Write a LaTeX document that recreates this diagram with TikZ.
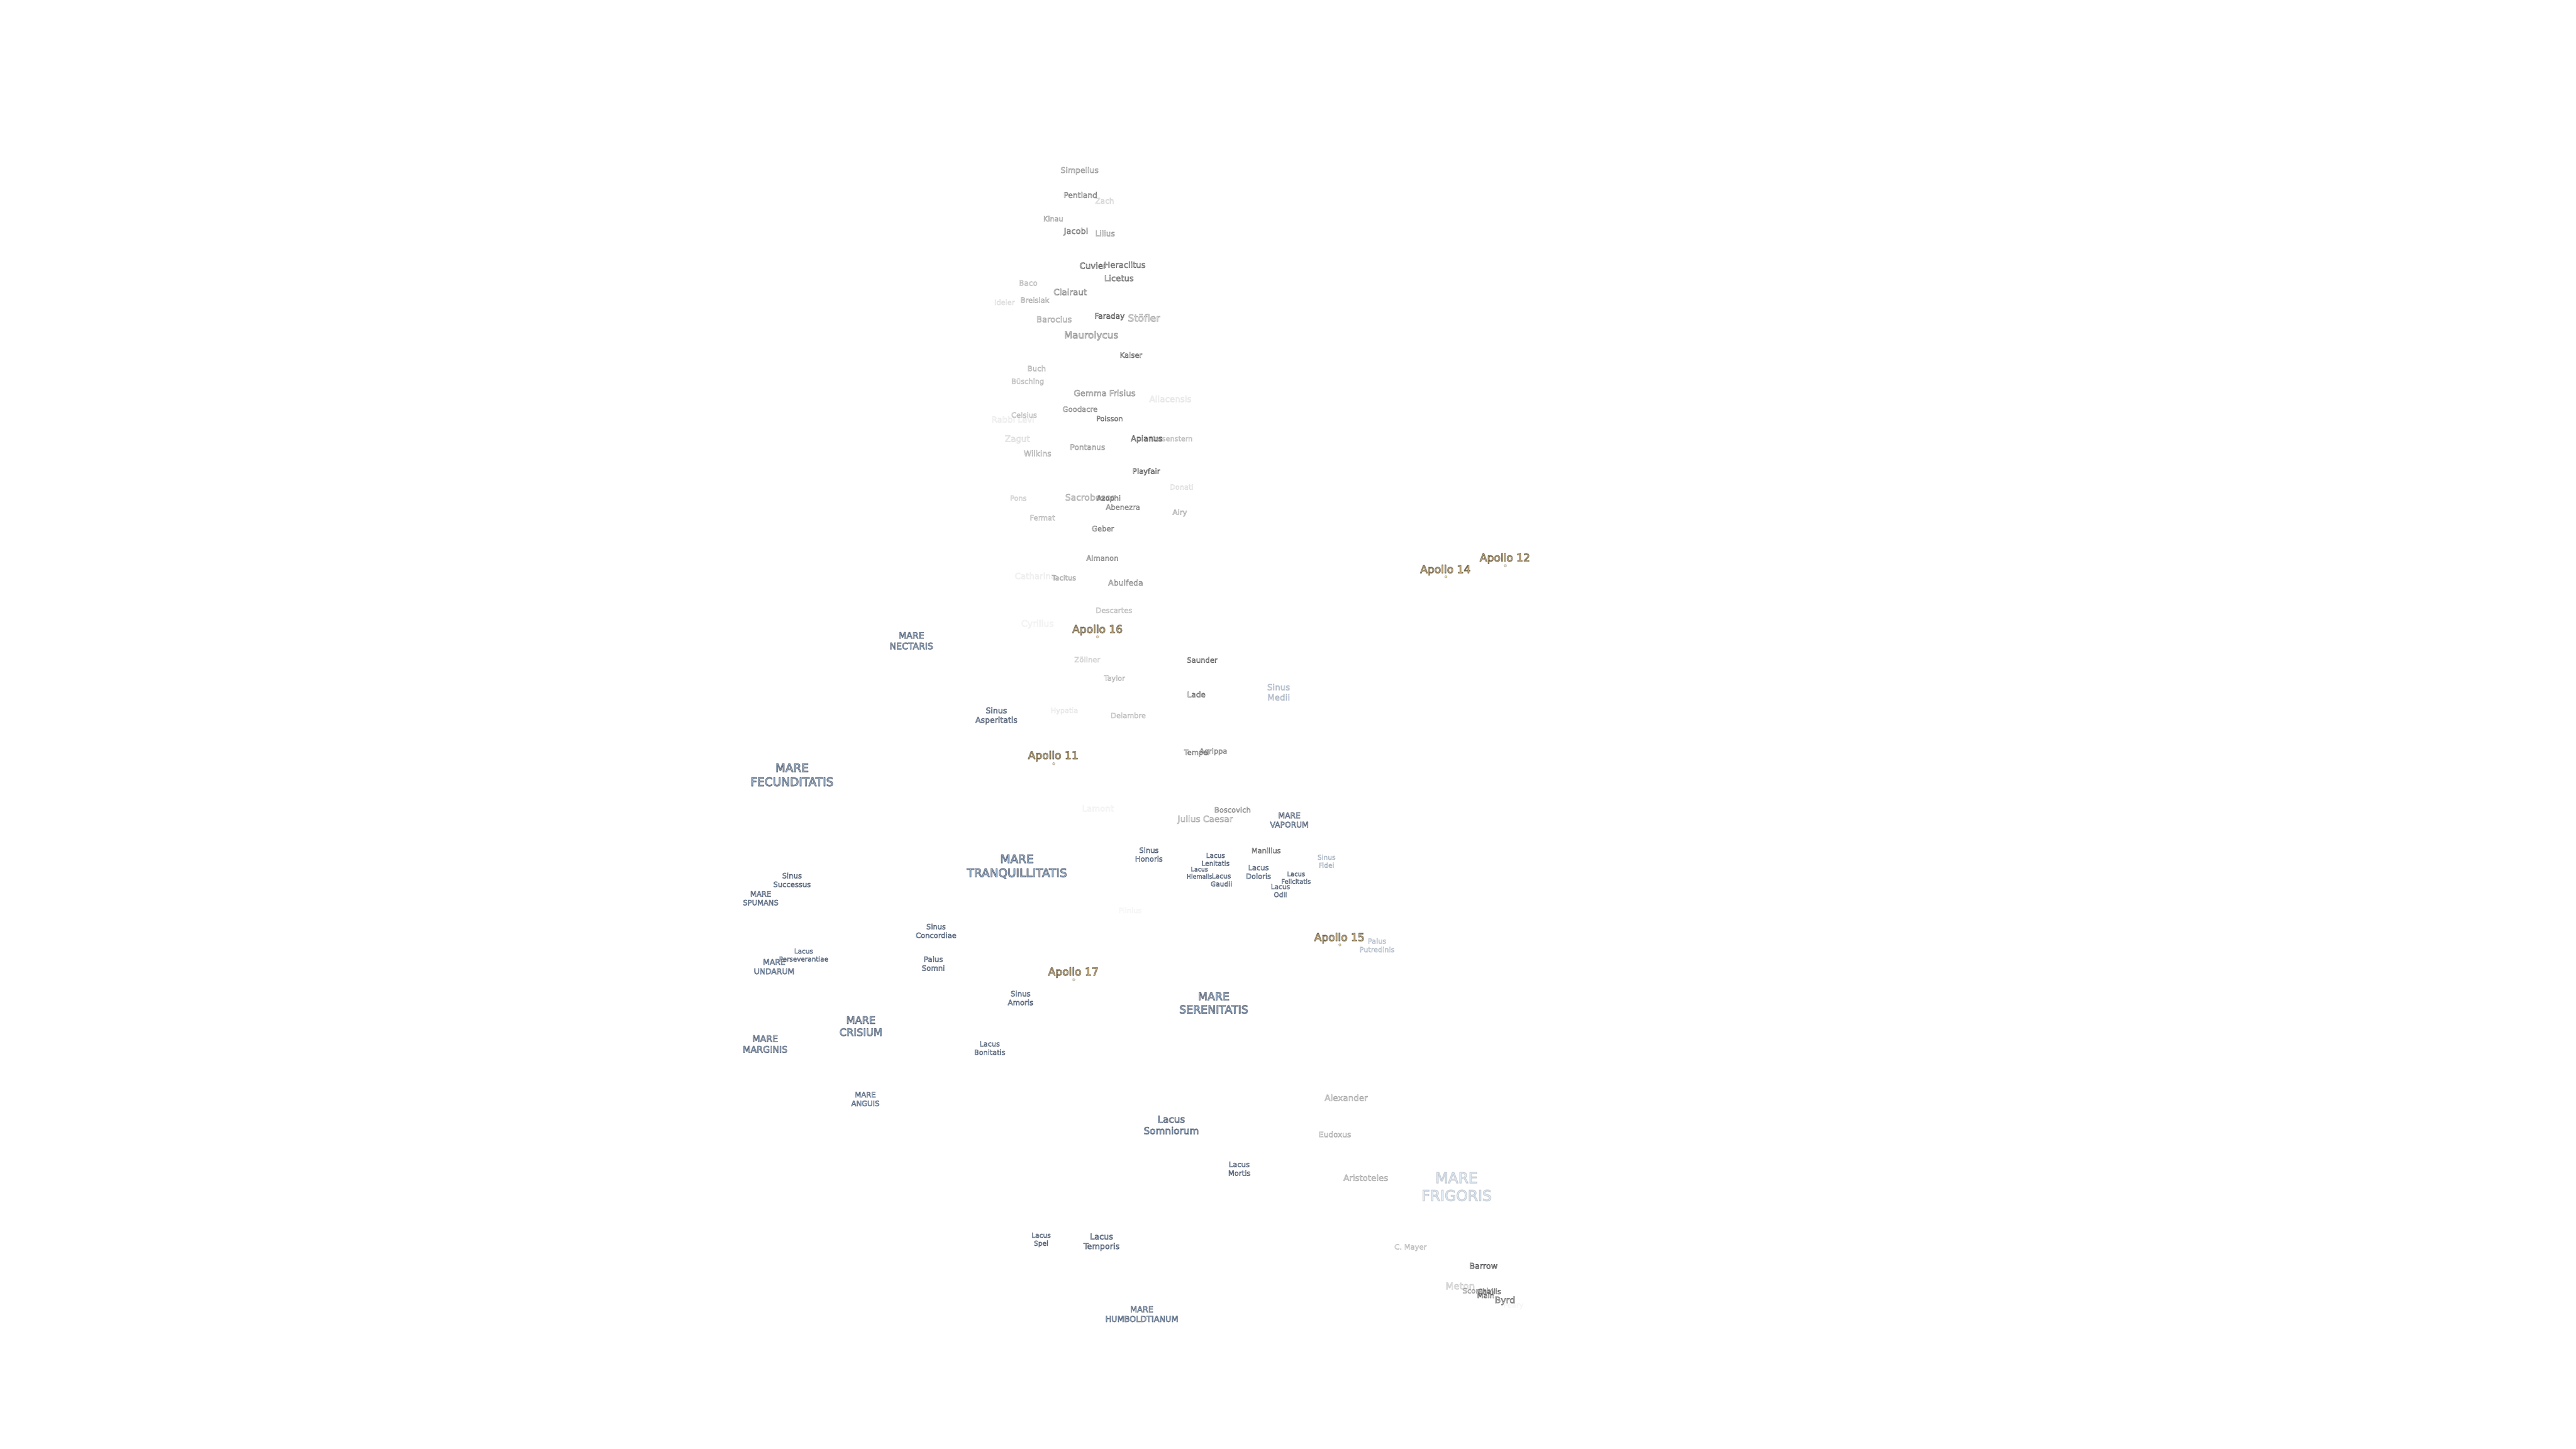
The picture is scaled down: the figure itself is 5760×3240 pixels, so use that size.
\documentclass[tikz,border=0pt]{standalone}
\usepackage{fontspec}
\setmainfont{DejaVu Sans}
\newfontfamily\rimfont[FakeBold=5]{DejaVu Sans}
\newcommand\fs[1]{%
  \pgfmathsetmacro\fsa{#1*0.28453}\pgfmathsetmacro\fsb{#1*0.28453*1.2}%
  \rimfont\fontsize{\fsa pt}{\fsb pt}\selectfont}
\definecolor{apollofill}{RGB}{252,222,165}
\tikzset{
  lbl/.style={inner sep=0pt,align=center,execute at end node={\special{pdf:ec}}},
  sz/.style={font=\fs{#1}},
  crater/.style={lbl,execute at begin node={\special{pdf:bc [0.98 0.98 0.98] [0.36 0.36 0.37]}}},
  mare/.style={lbl,execute at begin node={\special{pdf:bc [0.75 0.87 0.98] [0.36 0.4 0.47]}}},
  apollo/.style={lbl,sz=24,execute at begin node={\special{pdf:bc [0.99 0.87 0.65] [0.42 0.38 0.3]}}},
  op/.style={opacity=#1},
  site/.style={circle,inner sep=0pt,minimum size=1.5pt,fill=apollofill,draw=black!60,line width=.1pt}
}
\begin{document}
\begin{tikzpicture}[x=0.01cm,y=-0.01cm]
\useasboundingbox[fill=white] (0,0) rectangle (5760,3240);
% craters
\node[crater,sz=17.5,op=.6] (simpelius) at (2414,382) {Simpelius};
\node[crater,sz=17.2,op=.8] (pentland) at (2416,436) {Pentland};
\node[crater,sz=17,op=.25] (zach) at (2470,449) {Zach};
\node[crater,sz=16,op=.6] (kinau) at (2355,489) {Kinau};
\node[crater,sz=18,op=.85] (jacobi) at (2406,518) {Jacobi};
\node[crater,sz=17.3,op=.6] (lilius) at (2471,522) {Lilius};
\node[crater,sz=18.7,op=.95] (cuvier) at (2444,594) {Cuvier};
\node[crater,sz=18.4,op=.9] (heraclitus) at (2515,592) {Heraclitus};
\node[crater,sz=18.5,op=.85] (licetus) at (2502,622) {Licetus};
\node[crater,sz=17,op=.4] (baco) at (2299,633) {Baco};
\node[crater,sz=19,op=.7] (clairaut) at (2393,653) {Clairaut};
\node[crater,sz=16.3,op=.5] (breislak) at (2314,671) {Breislak};
\node[crater,sz=16,op=.2] (ideler) at (2246,676) {Ideler};
\node[crater,sz=18.5,op=.5] (barocius) at (2357,714) {Barocius};
\node[crater,sz=17,op=1] (faraday) at (2481,708) {Faraday};
\node[crater,sz=21.8,op=.5] (stofler) at (2558,711) {Stöfler};
\node[crater,sz=21.3,op=.65] (maurolycus) at (2440,751) {Maurolycus};
\node[crater,sz=16.3,op=.85] (kaiser) at (2529,794) {Kaiser};
\node[crater,sz=16.5,op=.45] (buch) at (2318,824) {Buch};
\node[crater,sz=16,op=.4] (busching) at (2298,854) {Büsching};
\node[crater,sz=18.6,op=.65] (gemma) at (2470,879) {Gemma Frisius};
\node[crater,sz=18.9,op=.15] (allacensis) at (2617,892) {Allacensis};
\node[crater,sz=16.3,op=.65] (goodacre) at (2415,915) {Goodacre};
\node[crater,sz=18.5,op=.12] (rabbi) at (2265,938) {Rabbi Levi};
\node[crater,sz=16.2,op=.4] (celsius) at (2290,928) {Celsius};
\node[crater,sz=15.9,op=.9] (poisson) at (2481,936) {Poisson};
\node[crater,sz=18.8,op=.2] (zagut) at (2275,983) {Zagut};
\node[crater,sz=15.8,op=.4] (krusenstern) at (2619,981) {Krusenstern};
\node[crater,sz=17.7,op=1] (apianus) at (2564,982) {Apianus};
\node[crater,sz=17,op=.6] (pontanus) at (2432,1000) {Pontanus};
\node[crater,sz=17.4,op=.45] (wilkins) at (2320,1014) {Wilkins};
\node[crater,sz=16.4,op=1] (playfair) at (2563,1055) {Playfair};
\node[crater,sz=16,op=.2] (donati) at (2642,1089) {Donati};
\node[crater,sz=15.8,op=.3] (pons) at (2277,1114) {Pons};
\node[crater,sz=19.6,op=.5] (sacrobosco) at (2438,1112) {Sacrobosco};
\node[crater,sz=15.9,op=.9] (azophi) at (2479,1115) {Azophi};
\node[crater,sz=16.2,op=.75] (abenezra) at (2511,1134) {Abenezra};
\node[crater,sz=16.5,op=.5] (airy) at (2638,1147) {Airy};
\node[crater,sz=16,op=.4] (fermat) at (2331,1158) {Fermat};
\node[crater,sz=16.3,op=.75] (geber) at (2466,1182) {Geber};
\node[crater,sz=16.2,op=.7] (almanon) at (2465,1248) {Almanon};
\node[crater,sz=18.8,op=.1] (catharina) at (2315,1288) {Catharina};
\node[crater,sz=15.7,op=.55] (tacitus) at (2379,1292) {Tacitus};
\node[crater,sz=17.6,op=.65] (abulfeda) at (2517,1303) {Abulfeda};
\node[crater,sz=16.2,op=.4] (descartes) at (2491,1365) {Descartes};
\node[crater,sz=19.7,op=.08] (cyrillus) at (2320,1396) {Cyrillus};
\node[crater,sz=16.4,op=.3] (zollner) at (2431,1475) {Zöllner};
\node[crater,sz=16.3,op=.9] (saunder) at (2688,1476) {Saunder};
\node[crater,sz=15.8,op=.45] (taylor) at (2492,1518) {Taylor};
\node[crater,sz=17,op=.85] (lade) at (2675,1553) {Lade};
\node[crater,sz=15.8,op=.15] (hypatia) at (2380,1590) {Hypatia};
\node[crater,sz=16,op=.4] (delambre) at (2523,1600) {Delambre};
\node[crater,sz=16,op=.8] (tempel) at (2676,1684) {Tempel};
\node[crater,sz=16,op=.8] (agrippa) at (2713,1681) {Agrippa};
\node[crater,sz=16.1,op=.7] (boscovich) at (2756,1811) {Boscovich};
\node[crater,sz=19.2,op=.5] (julius) at (2695,1833) {Julius Caesar};
\node[crater,sz=16,op=.9] (manilius) at (2831,1902) {Manilius};
\node[crater,sz=18.7,op=.08] (lamont) at (2455,1808) {Lamont};
\node[crater,sz=16,op=.06] (plinius) at (2527,2036) {Plinius};
\node[crater,sz=19,op=.5] (alexander) at (3010,2455) {Alexander};
\node[crater,sz=17,op=.5] (eudoxus) at (2985,2537) {Eudoxus};
\node[crater,sz=18.8,op=.5] (aristoteles) at (3054,2634) {Aristoteles};
\node[crater,sz=16.2,op=.4] (mayer) at (3154,2790) {C. Mayer};
\node[crater,sz=18,op=1] (barrow) at (3317,2831) {Barrow};
\node[crater,sz=21,op=.3] (meton) at (3265,2876) {Meton};
\node[crater,sz=16,op=.6] (scoresby) at (3307,2888) {Scoresby};
\node[crater,sz=16,op=.95] (challis) at (3330,2888) {Challis};
\node[crater,sz=16,op=.95] (main) at (3322,2897) {Main};
\node[crater,sz=16,op=.05] (peary) at (3384,2920) {Peary};
\node[crater,sz=19.8,op=.85] (byrd) at (3365,2909) {Byrd};
% maria, lakes, bays
\node[mare,sz=19.8] (nectaris) at (2038,1433) {MARE\\NECTARIS};
\node[mare,sz=26] (fecunditatis) at (1771,1733) {MARE\\FECUNDITATIS};
\node[mare,sz=26] (tranquillitatis) at (2274,1938) {MARE\\TRANQUILLITATIS};
\node[mare,sz=17.3] (vaporum) at (2883,1834) {MARE\\VAPORUM};
\node[mare,sz=24.4] (serenitatis) at (2714,2243) {MARE\\SERENITATIS};
\node[mare,sz=16.2] (spumans) at (1701,2009) {MARE\\SPUMANS};
\node[mare,sz=17.4] (undarum) at (1731,2162) {MARE\\UNDARUM};
\node[mare,sz=22.7] (crisium) at (1925,2295) {MARE\\CRISIUM};
\node[mare,sz=20] (marginis) at (1711,2335) {MARE\\MARGINIS};
\node[mare,sz=16.3] (anguis) at (1935,2458) {MARE\\ANGUIS};
\node[mare,sz=18] (humboldtianum) at (2553,2939) {MARE\\HUMBOLDTIANUM};
\node[mare,sz=33,op=.3] (frigoris) at (3257,2654) {MARE\\FRIGORIS};
\node[mare,sz=17.6] (asperitatis) at (2228,1601) {Sinus\\Asperitatis};
\node[mare,sz=18.9,op=.4] (medii) at (2859,1548) {Sinus\\Medii};
\node[mare,sz=16.1] (honoris) at (2569,1911) {Sinus\\Honoris};
\node[mare,sz=14.9,op=.45] (fidei) at (2966,1926) {Sinus\\Fidei};
\node[mare,sz=16.2] (successus) at (1771,1968) {Sinus\\Successus};
\node[mare,sz=16.1] (concordiae) at (2093,2082) {Sinus\\Concordiae};
\node[mare,sz=16.4] (amoris) at (2282,2232) {Sinus\\Amoris};
\node[mare,sz=14.7] (lenitatis) at (2718,1922) {Lacus\\Lenitatis};
\node[mare,sz=16.1] (doloris) at (2814,1950) {Lacus\\Doloris};
\node[mare,sz=13.3] (hiemalis) at (2682,1952) {Lacus\\Hiemalis};
\node[mare,sz=14.9] (gaudii) at (2731,1968) {Lacus\\Gaudii};
\node[mare,sz=14] (felicitatis) at (2898,1963) {Lacus\\Felicitatis};
\node[mare,sz=15] (odii) at (2863,1992) {Lacus\\Odii};
\node[mare,sz=14.7] (perseverantiae) at (1797,2136) {Lacus\\Perseverantiae};
\node[mare,sz=15.8] (bonitatis) at (2213,2344) {Lacus\\Bonitatis};
\node[mare,sz=21.4] (somniorum) at (2619,2516) {Lacus\\Somniorum};
\node[mare,sz=16.2] (mortis) at (2771,2614) {Lacus\\Mortis};
\node[mare,sz=15] (spei) at (2328,2773) {Lacus\\Spei};
\node[mare,sz=18] (temporis) at (2463,2778) {Lacus\\Temporis};
\node[mare,sz=15.8,op=.4] (putredinis) at (3079,2114) {Palus\\Putredinis};
\node[mare,sz=16.5] (somni) at (2087,2155) {Palus\\Somni};
% landing sites
\node[apollo] (a11) at (2355,1691) {Apollo 11};
\node[apollo] (a12) at (3365,1249) {Apollo 12};
\node[apollo] (a14) at (3232,1275) {Apollo 14};
\node[apollo] (a15) at (2995,2098) {Apollo 15};
\node[apollo] (a16) at (2454,1409) {Apollo 16};
\node[apollo] (a17) at (2400,2175) {Apollo 17};
\node[site] (s11) at (2356,1708) {};
\node[site] (s12) at (3366,1265) {};
\node[site] (s14) at (3233,1290) {};
\node[site] (s15) at (2996,2113) {};
\node[site] (s16) at (2454,1424) {};
\node[site] (s17) at (2401,2191) {};
\end{tikzpicture}
\end{document}
